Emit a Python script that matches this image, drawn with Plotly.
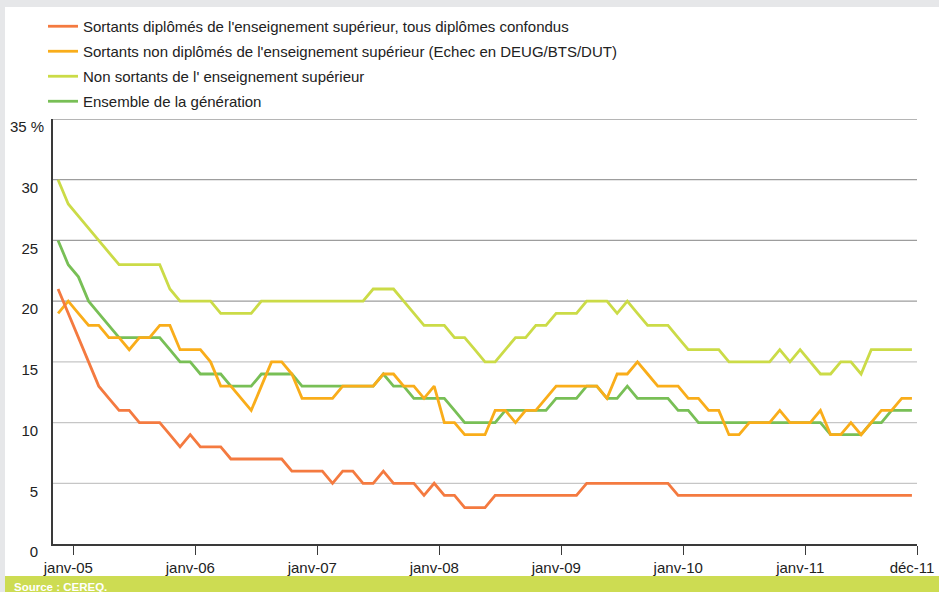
import plotly.graph_objects as go

# One point per month, from déc-04 to déc-11 (85 months)
months = list(range(85))

tick_pos = [1.5, 13.5, 25.5, 37.5, 49.5, 61.5, 73.5, 84.5]
tick_labels = ["janv-05", "janv-06", "janv-07", "janv-08", "janv-09",
               "janv-10", "janv-11", "déc-11"]

y_ticks = [0, 5, 10, 15, 20, 25, 30]
y_tick_labels = ["0", "5", "10", "15", "20", "25", "30"]

name_dipl = "Sortants diplômés de l'enseignement supérieur, tous diplômes confondus"
name_non_dipl = "Sortants non diplômés de l'enseignement supérieur (Echec en DEUG/BTS/DUT)"
name_non_sortants = "Non sortants de l' enseignement supérieur"
name_ensemble = "Ensemble de la génération"

diplomes = [21, 19, 17, 15, 13, 12, 11, 11, 10, 10,
            10, 9, 8, 9, 8, 8, 8, 7, 7, 7,
            7, 7, 7, 6, 6, 6, 6, 5, 6, 6,
            5, 5, 6, 5, 5, 5, 4, 5, 4, 4,
            3, 3, 3, 4, 4, 4, 4, 4, 4, 4,
            4, 4, 5, 5, 5, 5, 5, 5, 5, 5,
            5, 4, 4, 4, 4, 4, 4, 4, 4, 4,
            4, 4, 4, 4, 4, 4, 4, 4, 4, 4,
            4, 4, 4, 4, 4]

non_diplomes = [19, 20, 19, 18, 18, 17, 17, 16, 17, 17,
                18, 18, 16, 16, 16, 15, 13, 13, 12, 11,
                13, 15, 15, 14, 12, 12, 12, 12, 13, 13,
                13, 13, 14, 14, 13, 13, 12, 13, 10, 10,
                9, 9, 9, 11, 11, 10, 11, 11, 12, 13,
                13, 13, 13, 13, 12, 14, 14, 15, 14, 13,
                13, 13, 12, 12, 11, 11, 9, 9, 10, 10,
                10, 11, 10, 10, 10, 11, 9, 9, 10, 9,
                10, 11, 11, 12, 12]

non_sortants = [30, 28, 27, 26, 25, 24, 23, 23, 23, 23,
                23, 21, 20, 20, 20, 20, 19, 19, 19, 19,
                20, 20, 20, 20, 20, 20, 20, 20, 20, 20,
                20, 21, 21, 21, 20, 19, 18, 18, 18, 17,
                17, 16, 15, 15, 16, 17, 17, 18, 18, 19,
                19, 19, 20, 20, 20, 19, 20, 19, 18, 18,
                18, 17, 16, 16, 16, 16, 15, 15, 15, 15,
                15, 16, 15, 16, 15, 14, 14, 15, 15, 14,
                16, 16, 16, 16, 16]

ensemble = [25, 23, 22, 20, 19, 18, 17, 17, 17, 17,
            17, 16, 15, 15, 14, 14, 14, 13, 13, 13,
            14, 14, 14, 14, 13, 13, 13, 13, 13, 13,
            13, 13, 14, 13, 13, 12, 12, 12, 12, 11,
            10, 10, 10, 10, 11, 11, 11, 11, 11, 12,
            12, 12, 13, 13, 12, 12, 13, 12, 12, 12,
            12, 11, 11, 10, 10, 10, 10, 10, 10, 10,
            10, 10, 10, 10, 10, 10, 9, 9, 9, 9,
            10, 10, 11, 11, 11]

FONT = "Liberation Sans, Arial, sans-serif"
TXT = "#222222"
W, H = 939, 592
ML, MR, MT, MB = 53, 22, 119, 48
PW, PH = W - ML - MR, H - MT - MB


def px(x):
    return (x - ML) / PW


def py(y):
    return (H - MB - y) / PH


fig = go.Figure()

# drawing order: later traces on top; legend order set by legendrank
series = [
    (ensemble, name_ensemble, "#78bf56", 4),
    (non_sortants, name_non_sortants, "#cbdb47", 3),
    (non_diplomes, name_non_dipl, "#f9ad1a", 2),
    (diplomes, name_dipl, "#f47a40", 1),
]
for vals, name, color, rank in series:
    fig.add_trace(go.Scatter(
        x=months, y=vals, name=name, mode="lines",
        line=dict(color=color, width=2.8),
        legendrank=rank, legendgroup=name, hoverinfo="skip",
    ))

shapes = [
    # white panel and source band
    dict(type="rect", xref="paper", yref="paper", x0=px(5), x1=px(W + 2), y0=py(576), y1=py(7),
         fillcolor="white", line=dict(width=0), layer="below"),
    dict(type="rect", xref="paper", yref="paper", x0=px(5), x1=px(W + 2), y0=py(H + 2), y1=py(576),
         fillcolor="#cddc52", line=dict(width=0), layer="below"),
]
for v in [5, 10, 15, 20, 25, 30, 35]:
    shapes.append(dict(type="line", xref="paper", yref="y", x0=0, x1=1, y0=v, y1=v,
                       line=dict(color="#c6c6c6" if v <= 15 else "#9d9d9d", width=1.3),
                       layer="below"))

annotations = [
    dict(text="35 %", xref="paper", yref="paper", x=px(46), y=py(127),
         xanchor="right", yanchor="middle", showarrow=False,
         font=dict(family=FONT, size=15, color=TXT)),
    dict(text="<b>Source : CEREQ.</b>", xref="paper", yref="paper", x=px(12), y=py(586.5),
         xanchor="left", yanchor="middle", showarrow=False,
         font=dict(family=FONT, size=11.5, color="white")),
]

fig.update_layout(
    width=W, height=H, autosize=False,
    margin=dict(l=ML, r=MR, t=MT, b=MB, pad=0, autoexpand=False),
    paper_bgcolor="#e6e7e9", plot_bgcolor="white",
    font=dict(family=FONT, size=15, color=TXT),
    showlegend=True,
    legend=dict(x=px(43), y=py(10), xanchor="left", yanchor="top",
                bgcolor="rgba(0,0,0,0)", font=dict(family=FONT, size=15, color=TXT),
                traceorder="grouped", tracegroupgap=2.5),
    shapes=shapes, annotations=annotations,
)
fig.update_xaxes(
    range=[-0.5, 84.5], tickvals=tick_pos, ticktext=tick_labels, automargin=False,
    showgrid=False, zeroline=False, showline=True, linecolor="#3a3a3a", linewidth=1.6,
    ticks="outside", ticklen=9, tickwidth=1.4, tickcolor="#3a3a3a",
    ticklabelshift=-5, tickfont=dict(family=FONT, size=15, color=TXT),
)
fig.update_yaxes(
    range=[0, 35], tickvals=y_ticks, ticktext=y_tick_labels, automargin=False,
    showgrid=False, zeroline=False, showline=True, linecolor="#3a3a3a", linewidth=1.6,
    ticks="", ticklabelstandoff=10, ticklabelshift=8,
    tickfont=dict(family=FONT, size=15, color=TXT),
)

fig.write_html("out.html")
